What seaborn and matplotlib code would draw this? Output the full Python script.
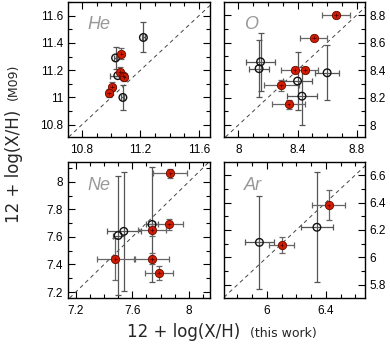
import numpy as np
import pandas as pd
import matplotlib
matplotlib.use("Agg")
import matplotlib.pyplot as plt
import seaborn as sns
from matplotlib.ticker import MultipleLocator

sns.set_style("ticks")
plt.rcParams['font.family'] = ['Liberation Sans', 'DejaVu Sans']

# He: x = this work, y = M09
he_red_x = [11.07, 11.06, 11.08, 11.09, 11.005, 10.985]
he_red_y = [11.32, 11.19, 11.16, 11.15, 11.08, 11.03]
he_red_xerr = [0.02, 0.02, 0.03, 0.02, 0.02, 0.02]
he_red_yerr = [0.04, 0.03, 0.03, 0.03, 0.03, 0.03]
he_open_x = [11.22, 11.03, 11.08, 11.045]
he_open_y = [11.44, 11.29, 11.0, 11.16]
he_open_xerr = [0.01, 0.01, 0.01, 0.055]
he_open_yerr = [0.11, 0.08, 0.09, 0.0]

# O
o_red_x = [8.66, 8.51, 8.38, 8.45, 8.29, 8.34]
o_red_y = [8.80, 8.635, 8.40, 8.40, 8.29, 8.15]
o_red_xerr = [0.095, 0.09, 0.09, 0.09, 0.12, 0.11]
o_red_yerr = [0.02, 0.02, 0.02, 0.02, 0.04, 0.03]
o_open_x = [8.15, 8.14, 8.40, 8.43, 8.60]
o_open_y = [8.46, 8.41, 8.32, 8.21, 8.38]
o_open_xerr = [0.1, 0.07, 0.1, 0.1, 0.08]
o_open_yerr = [0.21, 0.205, 0.21, 0.21, 0.2]

# Ne
ne_red_x = [7.87, 7.86, 7.74, 7.74, 7.48, 7.79]
ne_red_y = [8.06, 7.69, 7.65, 7.44, 7.44, 7.34]
ne_red_xerr = [0.12, 0.1, 0.1, 0.12, 0.13, 0.1]
ne_red_yerr = [0.03, 0.04, 0.04, 0.04, 0.15, 0.05]
ne_open_x = [7.50, 7.54, 7.74]
ne_open_y = [7.61, 7.64, 7.69]
ne_open_xerr = [0.04, 0.12, 0.04]
ne_open_yerr = [0.43, 0.43, 0.42]

# Ar
ar_red_x = [6.42, 6.10]
ar_red_y = [6.38, 6.09]
ar_red_xerr = [0.11, 0.085]
ar_red_yerr = [0.11, 0.06]
ar_open_x = [5.95, 6.34]
ar_open_y = [6.11, 6.22]
ar_open_xerr = [0.1, 0.11]
ar_open_yerr = [0.34, 0.40]

panels = [
    ("He", he_red_x, he_red_y, he_red_xerr, he_red_yerr,
     he_open_x, he_open_y, he_open_xerr, he_open_yerr,
     (10.705, 11.675), (10.71, 11.70), [10.8, 11.2, 11.6], [10.8, 11, 11.2, 11.4, 11.6], "left"),
    ("O", o_red_x, o_red_y, o_red_xerr, o_red_yerr,
     o_open_x, o_open_y, o_open_xerr, o_open_yerr,
     (7.903, 8.856), (7.913, 8.895), [8, 8.4, 8.8], [8, 8.2, 8.4, 8.6, 8.8], "right"),
    ("Ne", ne_red_x, ne_red_y, ne_red_xerr, ne_red_yerr,
     ne_open_x, ne_open_y, ne_open_xerr, ne_open_yerr,
     (7.145, 8.15), (7.157, 8.143), [7.2, 7.6, 8], [7.2, 7.4, 7.6, 7.8, 8], "left"),
    ("Ar", ar_red_x, ar_red_y, ar_red_xerr, ar_red_yerr,
     ar_open_x, ar_open_y, ar_open_xerr, ar_open_yerr,
     (5.71, 6.666), (5.705, 6.695), [6, 6.4], [5.8, 6, 6.2, 6.4, 6.6], "right"),
]

rects = [
    [68/390, 1-137/348, 142/390, 135/348],
    [224/390, 1-137/348, 141/390, 135/348],
    [68/390, 1-298/348, 142/390, 136/348],
    [224/390, 1-298/348, 141/390, 136/348],
]

fig = plt.figure(figsize=(3.9, 3.48), dpi=100)

for (name, rx, ry, rxe, rye, ox, oy, oxe, oye, xl, yl, xt, yt, side), rect in zip(panels, rects):
    ax = fig.add_axes(rect)
    ax.axline((0, 0), slope=1, color="#444444", lw=0.7, ls=(0, (4, 3.5)), zorder=1)

    ax.errorbar(ox, oy, xerr=oxe, yerr=oye, fmt="none", ecolor="#555555",
                elinewidth=0.9, capsize=2.5, capthick=0.9, zorder=2)
    ax.errorbar(rx, ry, xerr=rxe, yerr=rye, fmt="none", ecolor="#666666",
                elinewidth=0.9, capsize=2.5, capthick=0.9, zorder=2)

    red_df = pd.DataFrame({"x": rx, "y": ry})
    open_df = pd.DataFrame({"x": ox, "y": oy})
    sns.scatterplot(data=open_df, x="x", y="y", ax=ax, s=30, marker="o",
                    facecolor="none", edgecolor="#111111", linewidth=1.0, zorder=3)
    sns.scatterplot(data=red_df, x="x", y="y", ax=ax, s=36, marker="o",
                    color="#d01c00", edgecolor="#6a0800", linewidth=0.6, zorder=4)
    # small dark crosses over the red points
    ax.errorbar(rx, ry, xerr=np.full(len(rx), 0.012), yerr=np.full(len(ry), 0.012),
                fmt="none", ecolor="#5a0000", elinewidth=0.6, zorder=5)

    ax.set_xlim(xl)
    ax.set_ylim(yl)
    ax.set_xticks(xt)
    ax.set_yticks(yt)
    ax.set_xticklabels([f"{v:g}" for v in xt])
    ax.set_yticklabels([f"{v:g}" for v in yt])
    ax.xaxis.set_minor_locator(MultipleLocator(0.1))
    ax.yaxis.set_minor_locator(MultipleLocator(0.1))
    ax.tick_params(which="both", direction="in", top=True, right=True, bottom=True, left=True,
                   labelsize=8.5, width=0.8, colors="black")
    ax.tick_params(which="major", length=5)
    ax.tick_params(which="minor", length=3)
    if side == "right":
        ax.tick_params(labelleft=False, labelright=True)
    ax.tick_params(axis="x", pad=5)
    ax.set_xlabel("")
    ax.set_ylabel("")
    for sp in ax.spines.values():
        sp.set_linewidth(1.0)
        sp.set_color("black")
    ax.text(0.14, 0.83, name, transform=ax.transAxes, fontsize=13, style="italic",
            color="#999999", ha="left", va="center")

lab = ["DejaVu Sans"]
fig.text(0.615, 0.032, "12 + log(X/H)", fontsize=12, ha="right", va="baseline", family=lab)
fig.text(0.641, 0.032, "(this work)", fontsize=9, ha="left", va="baseline", family=lab)
fig.text(0.035, 0.684, "12 + log(X/H)", fontsize=12, rotation=90, ha="center", va="top", family=lab)
fig.text(0.035, 0.713, "(M09)", fontsize=9, rotation=90, ha="center", va="bottom", family=lab)

fig.savefig("out.png", dpi=100)
